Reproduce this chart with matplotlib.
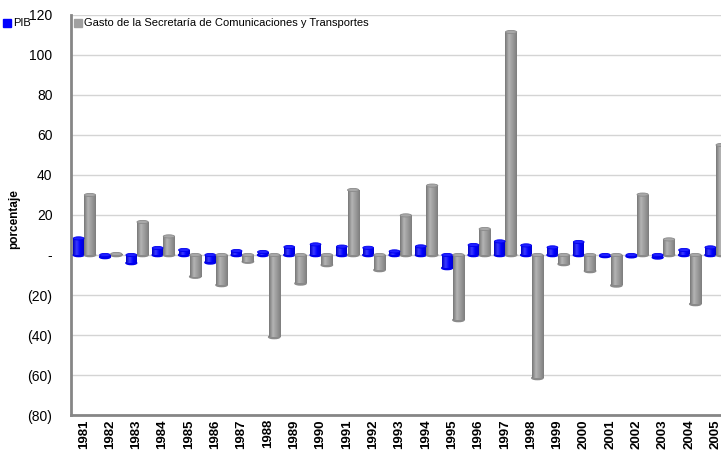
import numpy as np
import matplotlib
matplotlib.use("Agg")
import matplotlib.pyplot as plt
from matplotlib.patches import Rectangle, Ellipse
from matplotlib.colors import LinearSegmentedColormap
import matplotlib.transforms as mtransforms

plt.rcParams['font.family'] = ['Liberation Sans', 'DejaVu Sans']

years = [str(y) for y in range(1981, 2006)]
pib = [8.3, -1.0, -4.0, 3.5, 2.5, -3.7, 2.0, 1.5, 4.0, 5.3, 4.2, 3.6, 1.8, 4.3,
       -6.5, 5.0, 6.8, 4.8, 3.8, 6.5, -0.5, -0.6, -1.2, 2.5, 3.8]
gasto = [30.0, 0.5, 16.5, 9.3, -10.8, -15.0, -3.3, -41.0, -14.2, -5.0, 32.5, -7.5,
         19.8, 34.7, -32.5, 13.0, 111.5, -61.5, -4.5, -8.0, -15.2, 30.2, 7.8, -24.5, 55.0]
yticks = [-80, -60, -40, -20, 0, 20, 40, 60, 80, 100, 120]
ytick_labels = ["(80)", "(60)", "(40)", "(20)", "-", "20", "40", "60", "80", "100", "120"]
series_names = ["PIB", "Gasto de la Secretaría de Comunicaciones y Transportes"]

fig = plt.figure(figsize=(7.21, 4.51), dpi=100)
ax = fig.add_axes([70.5/721, 36/451, 658/721, 400/451])

x = np.arange(len(years))
blue_cmap = LinearSegmentedColormap.from_list("b", ["#0000c0", "#3a3aff", "#0000ff", "#0000d0"])
gray_cmap = LinearSegmentedColormap.from_list("g", ["#777777", "#b4b4b4", "#999999", "#7e7e7e"])
grad = np.linspace(0, 1, 64).reshape(1, -1)
cap_h = 1.6  # ellipse cap height in data units

def draw(vals, offset, w, color, capcolor, cmap):
    bars = ax.bar(x + offset, vals, width=w, color=color, edgecolor="none", zorder=3)
    for b in bars:
        bx, by = b.get_x(), b.get_y()
        bw, bh = b.get_width(), b.get_height()
        im = ax.imshow(grad, cmap=cmap, aspect="auto",
                       extent=[bx, bx + bw, by, by + bh], zorder=3.1)
        im.set_clip_path(b)
        top = max(by, by + bh)
        bot = min(by, by + bh)
        ax.add_patch(Ellipse((bx + bw / 2, bot), bw, cap_h, color=color, zorder=3.05))
        ax.add_patch(Ellipse((bx + bw / 2, top), bw, cap_h, facecolor=capcolor,
                             edgecolor=color, linewidth=0.6, zorder=3.2))
    return bars

draw(pib, -0.19, 0.41, "#0000ee", "#2020ff", blue_cmap)
draw(gasto, 0.24, 0.43, "#8a8a8a", "#a8a8a8", gray_cmap)

ax.set_xlim(-0.5, len(years) - 0.5)
ax.set_ylim(-80, 120)
ax.set_yticks(yticks)
ax.set_yticklabels(ytick_labels, fontsize=10)
ax.grid(axis="y", color="#d4d4d4", linewidth=1, zorder=0)
ax.set_axisbelow(True)
ax.set_xticks(x)
ax.set_xticklabels(years, rotation=90, fontsize=9.5, fontweight="bold")
offset = mtransforms.ScaledTranslation(-2.5/100, 0, fig.dpi_scale_trans)
for lab in ax.get_xticklabels():
    lab.set_transform(lab.get_transform() + offset)
ax.tick_params(axis="both", length=0)
ax.tick_params(axis="y", pad=13)
ax.tick_params(axis="x", pad=3)
for s in ["top", "right"]:
    ax.spines[s].set_visible(False)
for s in ["left", "bottom"]:
    ax.spines[s].set_color("#868686")
    ax.spines[s].set_linewidth(2)
ax.set_ylabel("porcentaje", fontsize=8.5, fontweight="bold")
ax.yaxis.set_label_coords(-(70.5 - 20) / 658, 0.49)

# legend
fig.patches.append(Rectangle((3/721, 1 - 27/451), 8/721, 8/451, transform=fig.transFigure,
                             color="#0000ff"))
fig.text(13/721, 1 - 23/451, series_names[0], fontsize=8, va="center")
fig.patches.append(Rectangle((74/721, 1 - 27/451), 8/721, 8/451, transform=fig.transFigure,
                             color="#a0a0a0"))
fig.text(84/721, 1 - 23/451, series_names[1], fontsize=8, va="center")

fig.savefig("out.png", dpi=100)
